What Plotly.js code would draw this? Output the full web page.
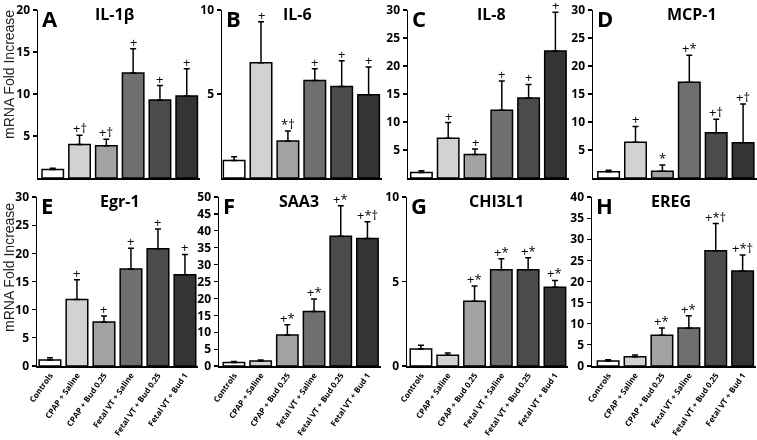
<!DOCTYPE html>
<html><head><meta charset="utf-8">
<script src="https://cdn.plot.ly/plotly-3.0.1.min.js"></script>
<style>
body{margin:0;padding:0;background:#fff;-webkit-font-smoothing:antialiased}
#chart{width:757px;height:440px;will-change:transform}
#chart svg{will-change:transform}
</style>
</head><body><div id="chart"></div>
<script>
// ---- data ----
const categories = ["Controls","CPAP + Saline","CPAP + Bud 0.25","Fetal VT + Saline","Fetal VT + Bud 0.25","Fetal VT + Bud 1"];
const panelNames = ["IL-1β","IL-6","IL-8","MCP-1","Egr-1","SAA3","CHI3L1","EREG"];
const panelLetters = ["A","B","C","D","E","F","G","H"];

const il1bMean = [1.0, 4.0, 3.85, 12.5, 9.3, 9.75];
const il1bSem  = [0.15, 1.1, 0.75, 2.9, 1.7, 3.25];
const il1bSig  = ["", "+†", "+†", "+", "+", "+"];

const il6Mean = [1.04, 6.86, 2.2, 5.8, 5.45, 4.96];
const il6Sem  = [0.23, 2.44, 0.6, 0.7, 1.53, 1.64];
const il6Sig  = ["", "+", "*†", "+", "+", "+"];

const il8Mean = [1.0, 7.1, 4.2, 12.1, 14.3, 22.7];
const il8Sem  = [0.3, 2.8, 1.0, 5.2, 2.4, 6.9];
const il8Sig  = ["", "+", "+", "+", "+", "+"];

const mcp1Mean = [1.1, 6.4, 1.2, 17.1, 8.1, 6.3];
const mcp1Sem  = [0.3, 2.8, 1.1, 4.8, 2.4, 6.9];
const mcp1Sig  = ["", "+", "*", "+*", "+†", "+†"];

const egr1Mean = [1.06, 11.8, 7.8, 17.2, 20.8, 16.2];
const egr1Sem  = [0.4, 3.5, 1.06, 3.7, 3.5, 3.6];
const egr1Sig  = ["", "+", "+", "+", "+", "+"];

const saa3Mean = [1.0, 1.5, 9.2, 16.1, 38.4, 37.7];
const saa3Sem  = [0.3, 0.3, 3.0, 3.7, 9.0, 5.0];
const saa3Sig  = ["", "", "+*", "+*", "+*", "+*†"];

const chi3l1Mean = [1.0, 0.64, 3.83, 5.7, 5.7, 4.66];
const chi3l1Sem  = [0.23, 0.13, 0.91, 0.65, 0.7, 0.4];
const chi3l1Sig  = ["", "", "+*", "+*", "+*", "+*"];

const eregMean = [1.2, 2.2, 7.3, 9.0, 27.3, 22.5];
const eregSem  = [0.25, 0.4, 1.7, 2.9, 6.4, 3.8];
const eregSig  = ["", "", "+*", "+*", "+*†", "+*†"];

const yMax = [20, 10, 30, 30, 30, 50, 10, 40];
const yTicks = [[5,10,15,20],[5,10],[5,10,15,20,25,30],[5,10,15,20,25,30],
  [0,5,10,15,20,25,30],[0,5,10,15,20,25,30,35,40,45,50],[0,5,10],[0,5,10,15,20,25,30,35,40]];

const means = [il1bMean, il6Mean, il8Mean, mcp1Mean, egr1Mean, saa3Mean, chi3l1Mean, eregMean];
const sems  = [il1bSem, il6Sem, il8Sem, mcp1Sem, egr1Sem, saa3Sem, chi3l1Sem, eregSem];
const sigs  = [il1bSig, il6Sig, il8Sig, mcp1Sig, egr1Sig, saa3Sig, chi3l1Sig, eregSig];

// ---- layout geometry (pixels) ----
const W = 757, H = 440;
const barColors = ["#ffffff","#d2d2d2","#a2a2a2","#6f6f6f","#4b4b4b","#343434"];
// [axis left px, range left, spacing px]
const geo = [[38,-0.55,26.8],[222,-0.45,26.9],[408,-0.5,26.8],[593,-0.58,26.9],
             [37,-0.48,27.0],[219,-0.56,26.7],[407,-0.52,26.8],[592,-0.6,26.9]];
const rowY = [[10,178],[197,366]];
const titleX = [114,297,491,692,120,299,496,671];

const data = [];
const layout = {
  width: W, height: H, margin:{l:0,r:0,t:0,b:0},
  paper_bgcolor:"#fff", plot_bgcolor:"#fff", showlegend:false,
  bargap:0.2, annotations:[], font:{family:"Open Sans", color:"#000"}
};

for (let p=0; p<8; p++) {
  const n = p+1;
  const xa = "x"+(n===1?"":n), ya = "y"+(n===1?"":n);
  const row = p<4 ? 0 : 1;
  const g = geo[p];
  const left = g[0], right = Math.min(W, g[0] + (5.5 - g[1])*g[2]);
  data.push({
    type:"bar", x:categories, y:means[p], xaxis:xa, yaxis:ya,
    marker:{color:barColors, line:{color:"#000", width:1.5}},
    error_y:{type:"data", symmetric:false, array:sems[p], arrayminus:sems[p].map(()=>0),
             color:"#000", thickness:1.5, width:3},
    hoverinfo:"none"
  });
  layout["xaxis"+(n===1?"":n)] = {
    domain:[left/W, right/W], anchor:ya, type:"category",
    range:[g[1],5.5], showline:true, linecolor:"#000", linewidth:1.5,
    ticks:"", showgrid:false, zeroline:false, fixedrange:true,
    showticklabels: row===1, tickangle:-55,
    tickfont:{family:"Open Sans", size:8, weight:"bold", color:"#000"}
  };
  layout["yaxis"+(n===1?"":n)] = {
    domain:[1-rowY[row][1]/H, 1-rowY[row][0]/H], anchor:xa,
    range:[0, yMax[p]], showline:true, linecolor:"#000", linewidth:1.5,
    ticks:"outside", ticklen:4, tickwidth:1.2, tickcolor:"#000",
    tickvals:yTicks[p], ticktext:yTicks[p].map(String),
    showgrid:false, zeroline:false, fixedrange:true,
    tickfont:{family:"Open Sans", size:12, weight:"bold", color:"#000"}
  };
  // significance markers
  for (let i=0;i<6;i++) {
    if (!sigs[p][i]) continue;
    layout.annotations.push({
      xref:xa, yref:ya, x:categories[i], y:means[p][i]+sems[p][i],
      text:sigs[p][i], showarrow:false, yanchor:"bottom", yshift:-4,
      font:{family:"Open Sans", size:13, color:"#000"}
    });
  }
  // panel letter
  layout.annotations.push({
    xref:"paper", yref:"paper", x:(left+2)/W, y:1-(rowY[row][0]-9)/H,
    xanchor:"left", yanchor:"top", text:panelLetters[p], showarrow:false,
    font:{family:"Open Sans", size:22, weight:"bold", color:"#000"}
  });
  // panel title
  layout.annotations.push({
    xref:"paper", yref:"paper", x:titleX[p]/W, y:1-(rowY[row][0]+4)/H,
    xanchor:"center", yanchor:"middle", text:panelNames[p], showarrow:false,
    font:{family:"Open Sans", size:16, weight:"bold", color:"#000"}
  });
}
// y-axis titles
[75, 268].forEach(yc => {
  layout.annotations.push({
    xref:"paper", yref:"paper", x:9/W, y:1-yc/H, xanchor:"center", yanchor:"middle",
    text:"mRNA Fold Increase", textangle:-90, showarrow:false,
    font:{family:"Liberation Sans", size:14, color:"#222"}
  });
});

Plotly.newPlot("chart", data, layout, {staticPlot:true, displayModeBar:false});
</script>
</body></html>
